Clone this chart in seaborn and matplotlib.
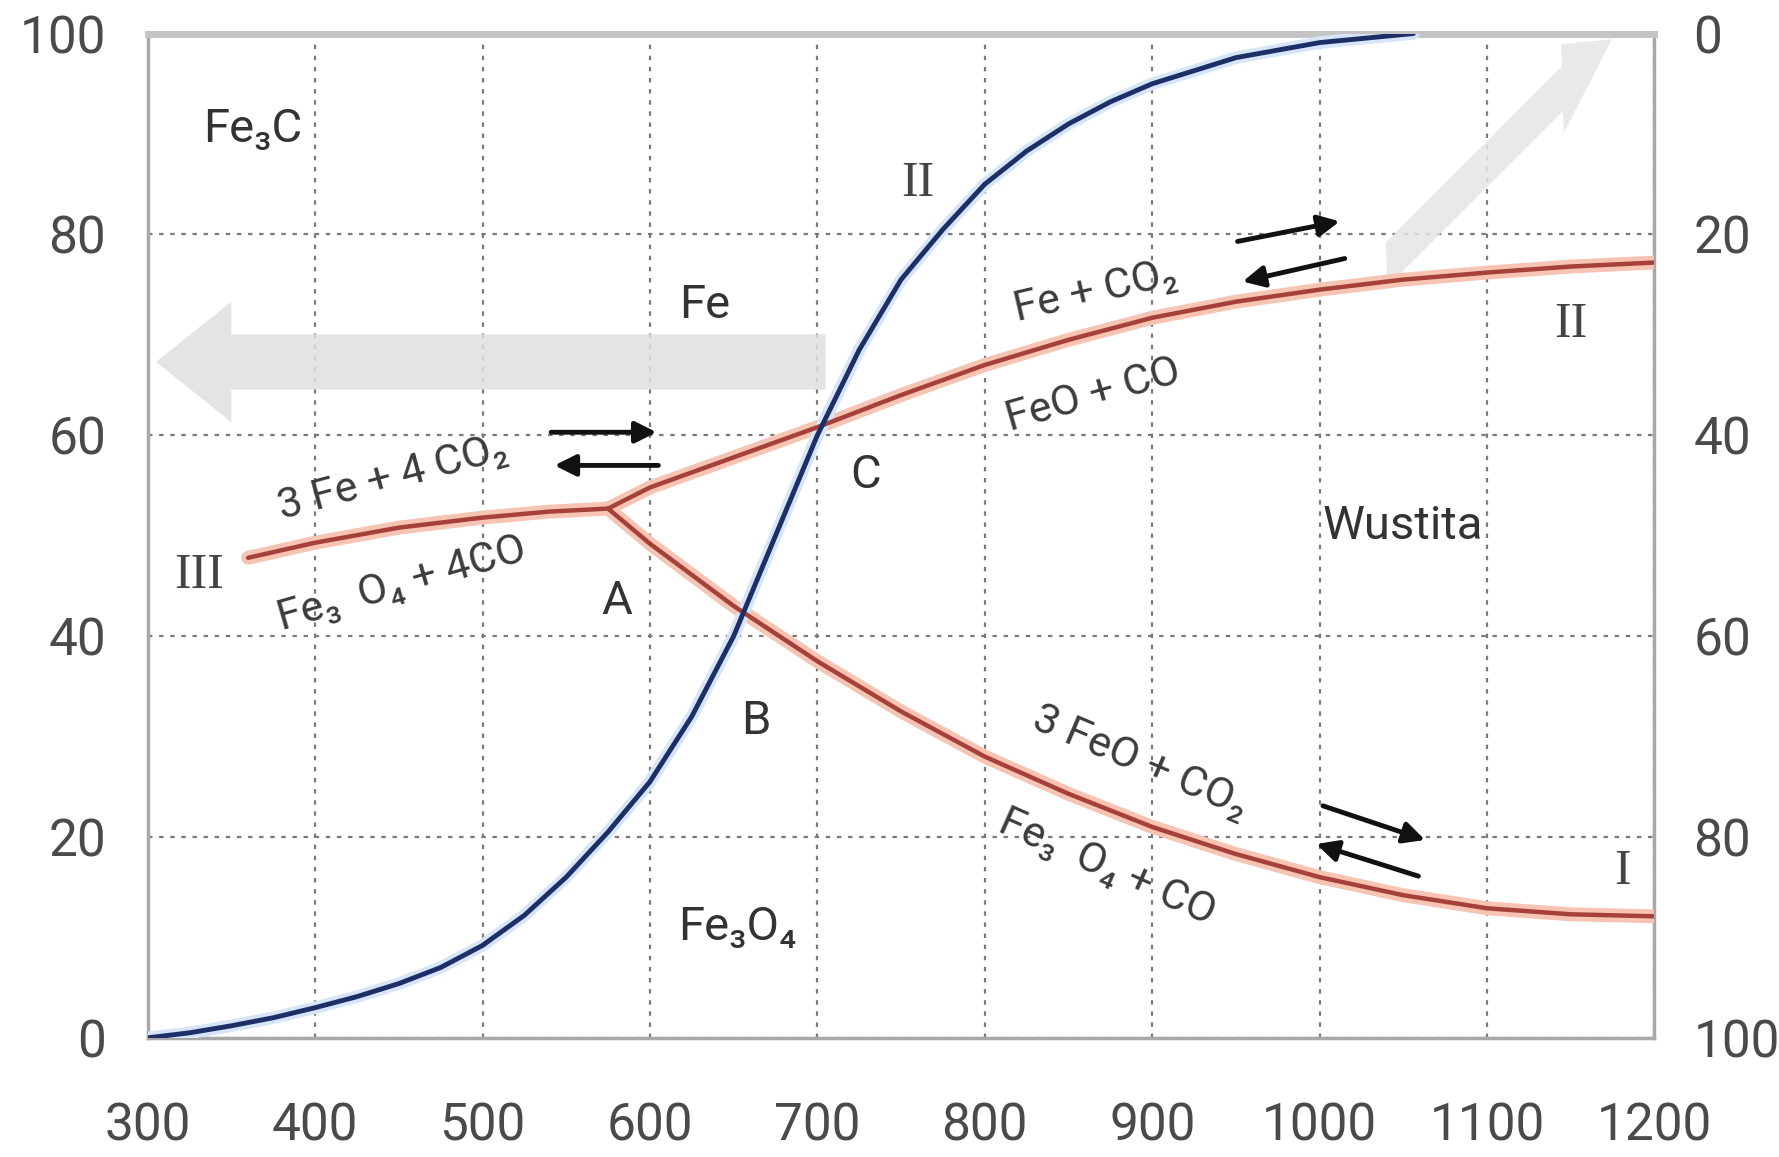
import seaborn as sns
import pandas as pd
import matplotlib.pyplot as plt
from matplotlib.patches import FancyArrow

# equilibrium curves (temperature in C, % CO)
t_boud = [300, 325, 350, 375, 400, 425, 450, 475, 500, 525, 550, 575, 600, 625, 650, 675,
          700, 725, 750, 775, 800, 825, 850, 875, 900, 950, 1000, 1056]
co_boud = [0, 0.5, 1.2, 2, 3, 4.1, 5.4, 7.0, 9.2, 12.2, 16, 20.5, 25.5, 32, 40, 50,
           60, 68.5, 75.5, 80.5, 85, 88.3, 91, 93.2, 95, 97.6, 99.1, 100]

t_mag_fe = [360, 400, 450, 500, 540, 575]
co_mag_fe = [47.8, 49.3, 50.8, 51.8, 52.4, 52.7]

t_wus_fe = [575, 600, 650, 700, 750, 800, 850, 900, 950, 1000, 1050, 1100, 1150, 1200]
co_wus_fe = [52.7, 54.8, 57.8, 60.8, 64, 67, 69.5, 71.7, 73.3, 74.5, 75.5, 76.2, 76.8, 77.2]

t_mag_wus = [575, 600, 650, 700, 750, 800, 850, 900, 950, 1000, 1050, 1100, 1150, 1200]
co_mag_wus = [52.7, 49.2, 43, 37.5, 32.5, 28, 24.3, 21, 18.3, 16, 14.2, 12.9, 12.3, 12.1]

x_ticks = [300, 400, 500, 600, 700, 800, 900, 1000, 1100, 1200]
y_ticks = [0, 20, 40, 60, 80, 100]

sns.set_style("white")
fam = ['Roboto', 'DejaVu Sans']
plt.rcParams['font.family'] = fam

fig = plt.figure(figsize=(17.79, 11.57), dpi=100)
ax = fig.add_axes([0.083, 0.103, 0.847, 0.868])

red_core = '#a5413a'
red_glow = '#f7c3b3'
blue = '#1d2f66'

curves = [
    pd.DataFrame({'T': t_mag_fe, 'CO': co_mag_fe}),
    pd.DataFrame({'T': t_wus_fe, 'CO': co_wus_fe}),
    pd.DataFrame({'T': t_mag_wus, 'CO': co_mag_wus}),
]
for df in curves:
    sns.lineplot(data=df, x='T', y='CO', ax=ax, color=red_glow, lw=10, zorder=3)
    sns.lineplot(data=df, x='T', y='CO', ax=ax, color=red_core, lw=3.2, zorder=4)

boud = pd.DataFrame({'T': t_boud, 'CO': co_boud})
sns.lineplot(data=boud, x='T', y='CO', ax=ax, color='#d6e6f8', lw=9, zorder=3)
sns.lineplot(data=boud, x='T', y='CO', ax=ax, color=blue, lw=3.5, zorder=5)

ax.set_xlim(300, 1200)
ax.set_ylim(0, 100)
ax.set_xticks(x_ticks)
ax.set_yticks(y_ticks)
ax.set_xlabel('')
ax.set_ylabel('')
ax.grid(True, color='#7a7a7a', ls=(0, (2, 3)), lw=1.6)
for s in ax.spines.values():
    s.set_color('#a8a8a8')
    s.set_linewidth(2.5)
ax.spines['top'].set_linewidth(5)
ax.spines['top'].set_color('#c4c4c4')
ax.tick_params(axis='x', length=0, pad=46, labelsize=37, labelcolor='#4a4a4a')
ax.tick_params(axis='y', length=0, pad=30, labelsize=37, labelcolor='#4a4a4a')

ax2 = ax.twinx()
ax2.set_ylim(100, 0)
ax2.set_yticks(y_ticks)
ax2.tick_params(axis='y', length=0, pad=28, labelsize=37, labelcolor='#4a4a4a')
for s in ax2.spines.values():
    s.set_visible(False)

# big faded arrows
ax.add_patch(FancyArrow(705, 67.3, -355, 0, width=5.5, head_width=12, head_length=45,
                        color='#e0e0e0', alpha=0.85, lw=0, zorder=1))
ax.add_patch(FancyArrow(1040, 77, 105, 17.5, width=4.5, head_width=9, head_length=30,
                        color='#e6e6e6', alpha=0.85, lw=0, zorder=1))

# small reaction arrows
arrow_pairs = [
    ((541, 60.3), (604, 60.3)), ((605, 57.0), (543, 57.0)),
    ((951, 79.3), (1012, 81.3)), ((1015, 77.6), (954, 75.3)),
    ((1002, 23.1), (1063, 19.7)), ((1059, 16.1), (998, 19.3)),
]
for start, end in arrow_pairs:
    ax.annotate('', xy=end, xytext=start, zorder=6,
                arrowprops=dict(arrowstyle='-|>', color='#111111', lw=3.5,
                                mutation_scale=32, shrinkA=0, shrinkB=0))

# region labels
lab = dict(color='#333333', fontsize=34, family=fam, zorder=7)
ax.text(333, 90.5, 'Fe₃C', va='center', **lab)
ax.text(633, 73, 'Fe', ha='center', va='center', **lab)
ax.text(1050, 51, 'Wustita', ha='center', va='center', **lab)
ax.text(652, 11, 'Fe₃O₄', ha='center', va='center', **lab)
ax.text(580, 43.5, 'A', ha='center', va='center', **lab)
ax.text(663, 31.5, 'B', ha='center', va='center', **lab)
ax.text(729, 56, 'C', ha='center', va='center', **lab)

roman = dict(color='#444444', fontsize=36, family='Liberation Serif', ha='center',
             va='center', zorder=7)
ax.text(760, 85, 'II', **roman)
ax.text(1150, 71, 'II', **roman)
ax.text(331, 46, 'III', **roman)
ax.text(1181, 16.5, 'I', **roman)

rx = dict(color='#3c3c3c', fontsize=31, family=fam, ha='center', va='center',
          rotation_mode='anchor', zorder=7)
ax.text(866, 74.3, 'Fe + CO₂', rotation=13, **rx)
ax.text(865, 64.0, 'FeO + CO', rotation=16, **rx)
ax.text(446, 55.8, '3 Fe + 4 CO₂', rotation=15, **rx)
ax.text(452, 45.2, 'Fe₃  O₄ + 4CO', rotation=16, **rx)
ax.text(893, 27.5, '3 FeO + CO₂', rotation=-23, **rx)
ax.text(873, 17.0, 'Fe₃  O₄ + CO', rotation=-24, **rx)

fig.savefig('out.png', dpi=100)
